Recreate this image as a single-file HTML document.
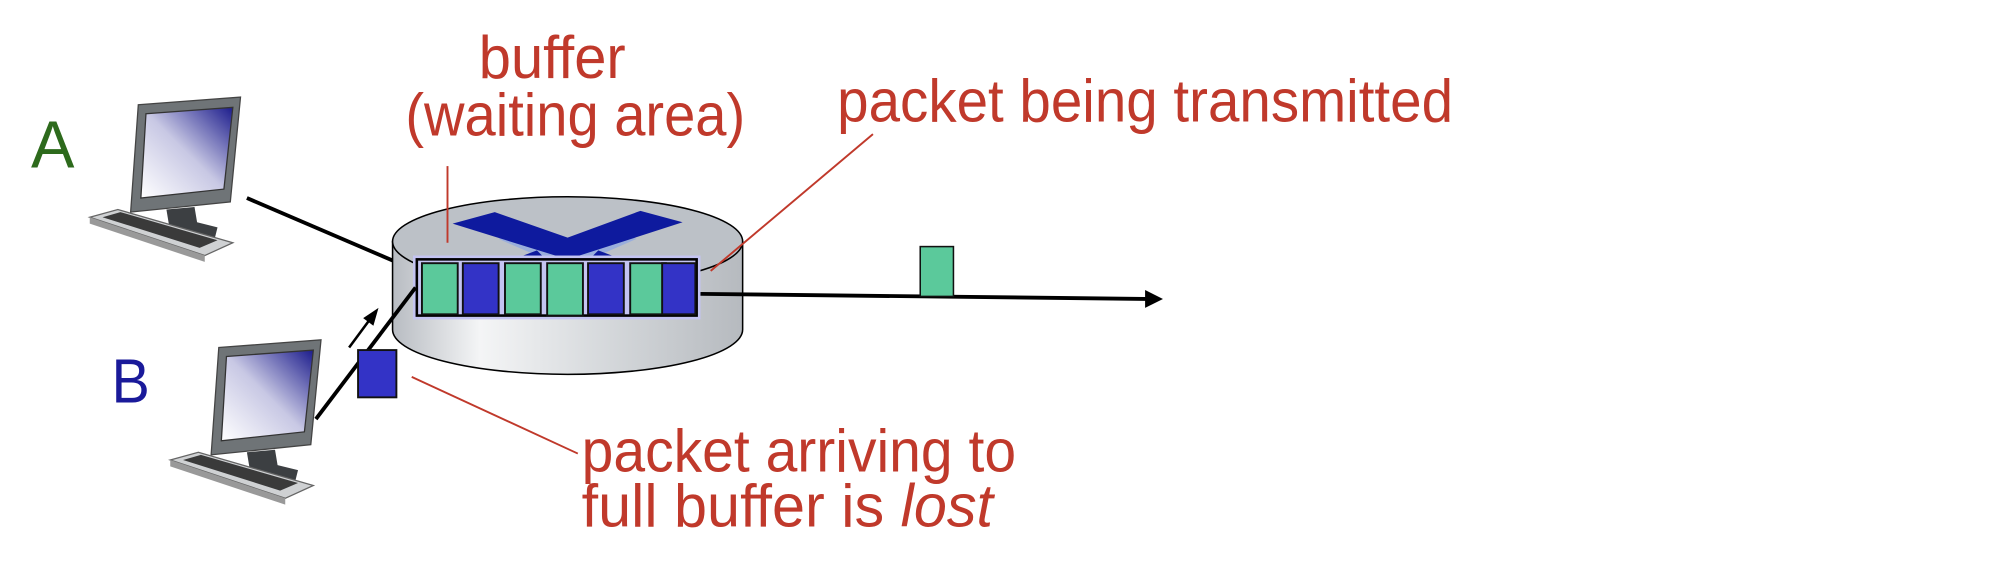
<!DOCTYPE html>
<html><head><meta charset="utf-8"><style>
html,body{margin:0;padding:0;background:#fff;}
svg{display:block;}
text{font-family:"Liberation Sans",sans-serif;}
</style></head><body>
<svg width="2004" height="566" viewBox="0 0 1568 443" xmlns="http://www.w3.org/2000/svg">
<defs>
<linearGradient id="scr" x1="0" y1="1" x2="1" y2="0">
<stop offset="0" stop-color="#ffffff"/><stop offset="0.5" stop-color="#c8c8e4"/><stop offset="1" stop-color="#1c1c8c"/></linearGradient>
<linearGradient id="cyl" x1="0" y1="0" x2="1" y2="0">
<stop offset="0" stop-color="#b8bcc2"/><stop offset="0.25" stop-color="#f4f5f6"/><stop offset="0.6" stop-color="#d6d9dc"/><stop offset="1" stop-color="#b6babf"/></linearGradient>
<g id="pc">
<path d="M38 4 L118 -2 L110 80 L32 88 Z" fill="#6f7477" stroke="#444" stroke-width="1"/>
<path d="M44 11 L112 6 L105 70 L40 77 Z" fill="url(#scr)" stroke="#333" stroke-width="1"/>
<path d="M60 86 L82 84 L84 96 L100 100 L98 108 L72 112 L54 104 L62 98 Z" fill="#3c3f42"/>
<path d="M0 92 L22 86 L112 112 L90 122 Z" fill="#cfd1d3" stroke="#666" stroke-width="1"/>
<path d="M10 92 L24 88 L100 110 L86 116 Z" fill="#3a3a3a"/>
<path d="M0 92 L90 122 L90 127 L0 97 Z" fill="#999"/>
</g>
</defs>

<text x="24" y="131" font-size="52" fill="#2d6a1c" textLength="34" lengthAdjust="spacingAndGlyphs">A</text>
<text x="87" y="315" font-size="49" fill="#1a1a9a" textLength="30" lengthAdjust="spacingAndGlyphs">B</text>

<use href="#pc" x="70" y="78"/>
<use href="#pc" x="133" y="268"/>

<line x1="193" y1="155" x2="326" y2="212" stroke="#000" stroke-width="3"/>

<path d="M307 189 L307 258 A137 35 0 0 0 581 258 L581 189 Z" fill="url(#cyl)" stroke="#000" stroke-width="1.2"/>
<ellipse cx="444" cy="189" rx="137" ry="35" fill="#bcc1c7" stroke="#000" stroke-width="1.2"/>
<path d="M390 187 L408 180 L444 196 L480 180 L498 187 L452 207 L436 207 Z" fill="#9aaedc"/>
<path d="M354 175 L387 166 L444 186 L501 165 L534 174 L444 203 Z" fill="#0e1a9e"/>
<path d="M404 202 L420 196 L426 202 Z M462 202 L468 196 L484 202 Z" fill="#0e1a9e"/>

<rect x="323" y="200" width="225" height="50" fill="#c4c4f2"/>
<rect x="326" y="203" width="219" height="44" fill="none" stroke="#000" stroke-width="2"/>
<g stroke="#111" stroke-width="1.5">
<rect x="330" y="206" width="28" height="40" fill="#5bc99b"/>
<rect x="362" y="206" width="28" height="40" fill="#3333c6"/>
<rect x="395" y="206" width="28" height="40" fill="#5bc99b"/>
<rect x="428" y="206" width="28" height="41" fill="#5bc99b"/>
<rect x="460" y="206" width="28" height="40" fill="#3333c6"/>
<rect x="493" y="206" width="28" height="40" fill="#5bc99b"/>
<rect x="518" y="206" width="26" height="40" fill="#3333c6"/>
</g>

<line x1="247" y1="328" x2="325" y2="225" stroke="#000" stroke-width="3"/>
<line x1="273" y1="272" x2="290" y2="249" stroke="#000" stroke-width="2"/>
<path d="M296 241 L284 249 L292 255 Z" fill="#000"/>
<rect x="280" y="274" width="30" height="37" fill="#3333c6" stroke="#111" stroke-width="1.5"/>

<line x1="548" y1="230" x2="898" y2="234" stroke="#000" stroke-width="3"/>
<path d="M910 234 L896 227 L896 241 Z" fill="#000"/>
<rect x="720" y="193" width="26" height="39" fill="#5bc99b" stroke="#111" stroke-width="1.2"/>

<g stroke="#c0392b" stroke-width="1.5">
<line x1="350" y1="130" x2="350" y2="190"/>
<line x1="683" y1="105" x2="556" y2="212"/>
<line x1="322" y1="295" x2="452" y2="355"/>
</g>

<g fill="#c0392b" font-size="47">
<text x="432" y="61" text-anchor="middle" textLength="115" lengthAdjust="spacingAndGlyphs">buffer</text>
<text x="317" y="106" textLength="266" lengthAdjust="spacingAndGlyphs">(waiting area)</text>
<text x="655" y="95" textLength="482" lengthAdjust="spacingAndGlyphs">packet being transmitted</text>
<text x="455" y="369" textLength="340" lengthAdjust="spacingAndGlyphs">packet arriving to</text>
<text x="455" y="412" textLength="322" lengthAdjust="spacingAndGlyphs">full buffer is <tspan font-style="italic">lost</tspan></text>
</g>
</svg>
</body></html>
